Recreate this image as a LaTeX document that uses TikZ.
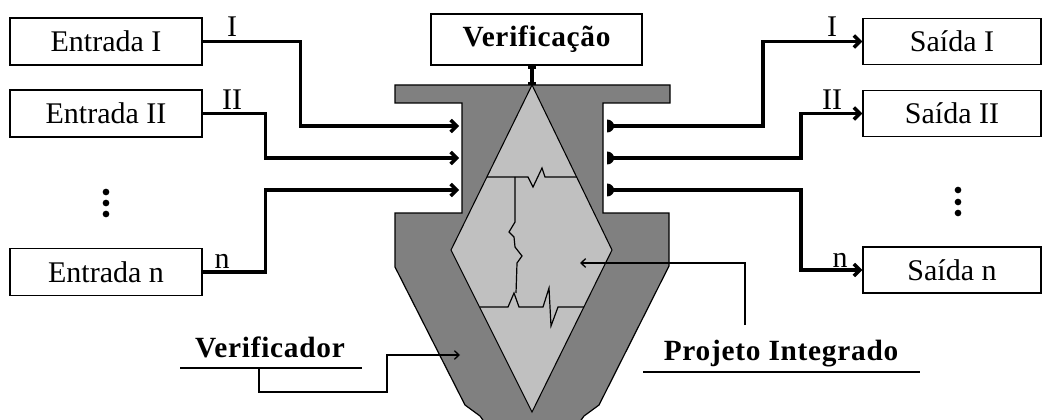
\documentclass[tikz,border=0pt]{standalone}
\usepackage{fontspec}
\setmainfont{Liberation Serif}
\usetikzlibrary{arrows.meta}
\definecolor{shellgray}{RGB}{128,128,128}
\definecolor{coregray}{RGB}{192,192,192}
\newcommand{\iofont}{\fontsize{22.5}{27}\selectfont}
\newcommand{\headfont}{\fontsize{22}{26}\selectfont\bfseries\addfontfeatures{LetterSpace=2.5}}

\begin{document}
\begin{tikzpicture}[x=0.75pt,y=-0.75pt,
  inbox/.style={draw,line width=1.1pt,minimum width=144pt,minimum height=35.25pt,inner sep=0pt,font=\iofont},
  outbox/.style={draw,line width=1.1pt,minimum width=133.5pt,minimum height=34.5pt,inner sep=0pt,font=\iofont},
  signal/.style={line width=2.6pt,-{Straight Barb[length=4.5pt,width=9pt]}},
  pointer/.style={line width=1pt,-{Straight Barb[length=3.5pt,width=6.5pt]}},
  crack/.style={line width=0.9pt,line join=miter},
  idx/.style={font=\iofont,anchor=base,inner sep=0pt},
  heading/.style={font=\headfont,anchor=base,inner sep=0pt},
  dot/.style={fill=black,circle,inner sep=0pt,minimum size=5pt}
]
\useasboundingbox (0,0) rectangle (1044,420);
\clip (0,0) rectangle (1044,420);

% outer verifier body
\draw[fill=shellgray,line width=0.9pt]
  (395,85) -- (670,85) -- (670,103) -- (603,103) -- (603,213) -- (669,213)
  -- (669,266) -- (599,405) -- (584,416) -- (574,430) -- (490,430)
  -- (480,416) -- (465,405) -- (395,267) -- (395,213) -- (462,213)
  -- (462,103) -- (395,103) -- cycle;

% integrated design core
\coordinate (dtop) at (532,85);
\draw[fill=coregray,line width=0.8pt]
  (dtop) -- (612,250) -- (532,412) -- (451,250) -- cycle;

% partition lines inside the core
\draw[crack] (487,177) -- (528,177) -- (533,187) -- (542,168) -- (545,177) -- (577,177);
\draw[crack] (515,177) -- (515,222) -- (509,232) -- (514,237) -- (515,247)
  -- (522,256) -- (517,263) -- (516,293);
\draw[crack] (480,307) -- (508,307) -- (514,293) -- (519,307) -- (543,307)
  -- (549,288) -- (551,326) -- (558,307) -- (584,307);

% verification block on top
\node[draw,line width=1.1pt,minimum width=158.25pt,minimum height=38.25pt,inner sep=0pt,font=\headfont]
  (verif) at (536.5,39.5) {Verificação};
\draw[line width=2.6pt,{Bar[width=6pt]}-{Bar[width=6pt]}] (verif.south -| dtop) -- (dtop);

% input side
\node[inbox] (e1) at (106,41.5) {Entrada I};
\node[inbox] (e2) at (106,113.5) {Entrada II};
\node[inbox] (en) at (106,272) {Entrada n};
\node[dot] (ld1) at (106,192) {};
\node[dot] (ld2) at (106,203) {};
\node[dot] (ld3) at (106,214) {};

\coordinate (in1) at (459,126);
\coordinate (in2) at (459,158);
\coordinate (in3) at (459,190);
\draw[signal] (e1.east) -- ++(98,0) |- (in1);
\draw[signal] (e2.east) -- ++(63,0) |- (in2);
\draw[signal] (en.east) -- ++(63,0) |- (in3);
\node[idx] (li1) at (232,37) {I};
\node[idx] (li2) at (232,110) {II};
\node[idx] (lin) at (222,268) {n};

% output side
\node[outbox] (s1) at (952,41.5) {Saída I};
\node[outbox] (s2) at (952,113.5) {Saída II};
\node[outbox] (sn) at (952,270) {Saída n};
\node[dot] (rd1) at (958,190) {};
\node[dot] (rd2) at (958,202) {};
\node[dot] (rd3) at (958,213) {};

\coordinate (out1) at (607,126);
\coordinate (out2) at (607,158);
\coordinate (out3) at (607,190);
\foreach \p in {out1,out2,out3}{
  \fill (\p) ++(0,-6.5) arc[start angle=-90,end angle=90,x radius=7,y radius=6.5] -- cycle;
}
\draw[signal] (out1) -- ++(156,0) |- (s1.west);
\draw[signal] (out2) -- ++(194,0) |- (s2.west);
\draw[signal] (out3) -- ++(194,0) |- (sn.west);
\node[idx] (lo1) at (832,37) {I};
\node[idx] (lo2) at (832,110) {II};
\node[idx] (lon) at (840,267) {n};

% callout: verifier
\node[heading] (vlab) at (270,357) {Verificador};
\coordinate (vul) at (259,368);
\coordinate (vtip) at (460,355);
\draw[line width=1.1pt] (180,368) -- (362,368);
\draw[pointer] (vul) -- (259,392) -- (387,392) |- (vtip);

% callout: integrated design
\node[heading] (plab) at (781,360) {Projeto Integrado};
\coordinate (ptail) at (745,325);
\coordinate (ptip) at (580,263);
\draw[line width=1.1pt] (643,372) -- (920,372);
\draw[pointer] (ptail) |- (ptip);
\end{tikzpicture}
\end{document}
